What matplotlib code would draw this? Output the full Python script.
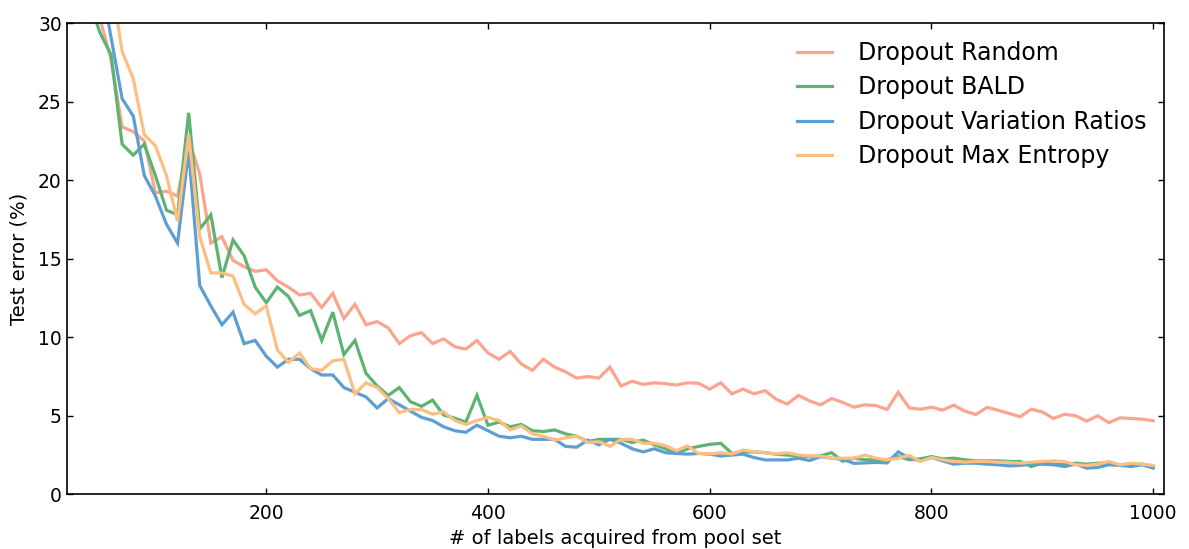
import numpy as np
import matplotlib
matplotlib.use("Agg")
import matplotlib.pyplot as plt

labels_acquired = list(range(20, 1001, 10))

dropout_random = [
    40, 36, 33, 30.3, 27.7, 23.4, 23.1, 22.5, 19.2, 19.3,
    19.0, 22.6, 20.4, 16.0, 16.4, 14.9, 14.5, 14.2, 14.3, 13.6,
    13.2, 12.7, 12.8, 11.9, 12.8, 11.2, 12.1, 10.8, 11.0, 10.6,
    9.6, 10.1, 10.3, 9.6, 9.9, 9.4, 9.25, 9.8, 9.0, 8.6,
    9.1, 8.3, 7.9, 8.6, 8.1, 7.8, 7.4, 7.5, 7.4, 8.1,
    6.9, 7.2, 7.0, 7.1, 7.05, 6.96, 7.1, 7.07, 6.7, 7.1,
    6.4, 6.7, 6.4, 6.6, 6.05, 5.75, 6.3, 5.95, 5.7, 6.1,
    5.85, 5.55, 5.7, 5.65, 5.4, 6.5, 5.5, 5.42, 5.55, 5.36,
    5.68, 5.3, 5.08, 5.53, 5.36, 5.15, 4.94, 5.42, 5.25, 4.83,
    5.1, 5.0, 4.66, 5.0, 4.56, 4.87, 4.83, 4.79, 4.68,
]

dropout_bald = [
    38, 34, 31.5, 29.4, 28.0, 22.3, 21.6, 22.3, 20.3, 18.1,
    17.8, 24.3, 16.9, 17.8, 13.8, 16.2, 15.2, 13.2, 12.2, 13.2,
    12.6, 11.4, 11.7, 9.8, 11.6, 8.9, 9.8, 7.7, 6.9, 6.3,
    6.8, 5.9, 5.6, 6.0, 5.05, 4.85, 4.6, 6.3, 4.4, 4.6,
    4.3, 4.45, 4.05, 4.0, 4.1, 3.85, 3.7, 3.35, 3.5, 3.5,
    3.5, 3.3, 3.45, 3.15, 2.9, 2.6, 2.9, 3.05, 3.18, 3.25,
    2.6, 2.7, 2.7, 2.65, 2.55, 2.5, 2.45, 2.4, 2.45, 2.65,
    2.1, 2.3, 2.2, 2.2, 2.2, 2.4, 2.2, 2.26, 2.4, 2.26,
    2.3, 2.2, 2.13, 2.13, 2.13, 2.09, 2.09, 1.77, 1.98, 1.92,
    1.88, 1.98, 1.92, 1.98, 1.98, 1.88, 1.84, 1.92, 1.77,
]

dropout_var_ratios = [
    42, 38, 35, 33, 29.1, 25.2, 24.1, 20.3, 19.0, 17.2,
    16.0, 21.9, 13.3, 12.0, 10.8, 11.6, 9.6, 9.8, 8.8, 8.1,
    8.6, 8.6, 8.0, 7.6, 7.6, 6.8, 6.5, 6.2, 5.5, 6.1,
    5.7, 5.3, 4.9, 4.7, 4.3, 4.05, 3.95, 4.4, 4.05, 3.7,
    3.6, 3.7, 3.5, 3.5, 3.5, 3.05, 3.0, 3.45, 3.15, 3.5,
    3.25, 2.9, 2.7, 2.9, 2.65, 2.6, 2.56, 2.6, 2.56, 2.44,
    2.5, 2.56, 2.34, 2.19, 2.19, 2.19, 2.3, 2.15, 2.4, 2.3,
    2.23, 1.97, 2.0, 2.03, 2.0, 2.7, 2.3, 2.13, 2.34, 2.13,
    1.92, 1.98, 1.98, 1.92, 1.88, 1.81, 1.84, 1.92, 1.92, 1.88,
    1.77, 1.92, 1.67, 1.71, 1.88, 1.84, 1.77, 1.88, 1.67,
]

dropout_max_entropy = [
    45, 41, 38.5, 36, 32.8, 28.2, 26.5, 22.9, 22.2, 20.3,
    17.4, 22.9, 16.4, 14.1, 14.1, 13.9, 12.1, 11.5, 12.0, 9.2,
    8.4, 9.0, 8.0, 7.9, 8.5, 8.6, 6.4, 7.1, 6.8, 6.1,
    5.2, 5.4, 5.4, 5.1, 5.25, 4.7, 4.45, 4.7, 4.9, 4.7,
    4.1, 4.35, 3.85, 3.7, 3.45, 3.6, 3.7, 3.3, 3.35, 3.05,
    3.5, 3.5, 3.25, 3.25, 3.1, 2.78, 3.08, 2.6, 2.57, 2.65,
    2.57, 2.82, 2.72, 2.65, 2.57, 2.65, 2.5, 2.44, 2.44, 2.3,
    2.3, 2.3, 2.5, 2.3, 2.2, 2.3, 2.47, 2.09, 2.34, 2.2,
    2.09, 2.05, 2.09, 2.09, 2.05, 2.03, 1.98, 2.05, 2.09, 2.13,
    2.09, 1.88, 1.84, 1.92, 2.09, 1.88, 1.98, 1.92, 1.84,
]

series_names = ["Dropout Random", "Dropout BALD",
                "Dropout Variation Ratios", "Dropout Max Entropy"]
series_colors = ["#FBA48E", "#5DB372", "#5D9FD3", "#FDBE82"]

fig = plt.figure(figsize=(11.89, 5.49), dpi=100)
ax = fig.add_axes([66.7 / 1189, 1 - 494.3 / 549,
                   (1164.3 - 66.7) / 1189, (494.3 - 23.3) / 549])

for vals, name, col in zip([dropout_random, dropout_bald,
                            dropout_var_ratios, dropout_max_entropy],
                           series_names, series_colors):
    ax.plot(labels_acquired, vals, color=col, lw=2.3, label=name,
            solid_joinstyle="miter")

ax.set_xlim(20, 1010)
ax.set_ylim(0, 30)
ax.set_xticks([200, 400, 600, 800, 1000])
ax.set_yticks([0, 5, 10, 15, 20, 25, 30])
ax.tick_params(direction="in", top=True, right=True, length=4.3, width=1,
               labelsize=13.5)
ax.tick_params(axis="x", pad=7)
ax.tick_params(axis="y", pad=3.5)
for s in ax.spines.values():
    s.set_linewidth(1.2)
ax.set_xlabel("# of labels acquired from pool set", fontsize=14, labelpad=4)
ax.set_ylabel("Test error (%)", fontsize=14, labelpad=7)

leg = ax.legend(loc="upper right", frameon=False, fontsize=17,
                handlelength=1.5, handletextpad=1.1, labelspacing=0.44,
                borderaxespad=0.35, borderpad=0.4)

fig.savefig("out.png", dpi=100)
